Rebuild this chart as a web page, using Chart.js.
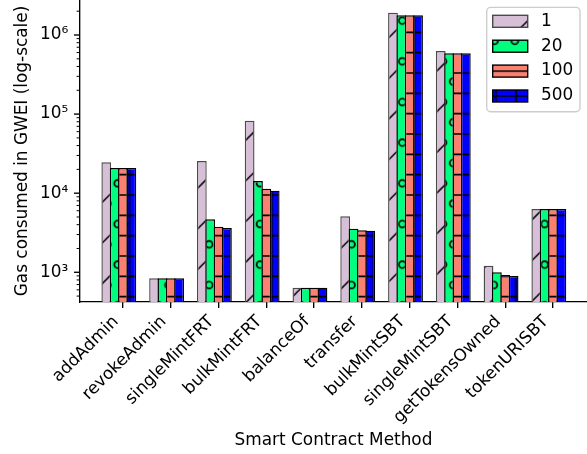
<!DOCTYPE html>
<html><head><meta charset="utf-8">
<script src="https://cdn.jsdelivr.net/npm/chart.js@4.4.1/dist/chart.umd.min.js"></script>
<style>html,body{margin:0;padding:0;background:#fff;}#wrap{width:587px;height:454px;}</style>
</head><body>
<div id="wrap"><canvas id="c" width="587" height="454"></canvas></div>
<script>
// ---------- data ----------
const categories = ['addAdmin','revokeAdmin','singleMintFRT','bulkMintFRT','balanceOf','transfer','bulkMintSBT','singleMintSBT','getTokensOwned','tokenURISBT'];
const seriesLabels = ['1','20','100','500'];
const gas1   = [24600, 840, 25500, 82500, 638, 5100, 1914000, 628000, 1212, 6310];
const gas20  = [20800, 840, 4680, 14260, 638, 3560, 1775000, 587000, 1000, 6310];
const gas100 = [20800, 840, 3770, 11400, 638, 3400, 1775000, 587000, 925, 6310];
const gas500 = [20800, 840, 3630, 10760, 638, 3360, 1775000, 587000, 898, 6310];
const yMajorTicks  = [1e3, 1e4, 1e5, 1e6];
const yMajorLabels = ['10³', '10⁴', '10⁵', '10⁶'];

// ---------- styles ----------
const FONT = {family: "'DejaVu Sans', sans-serif", size: 16.9};
const BAR_W = 0.175;
const fills = ['#D8BFD8', '#00FF7F', '#FA8072', '#0000FF'];
const edges = ['#4a4a4a', '#000000', '#000000', '#000000'];
const U = 122, S = U / 6;

function tile(fill, draw) {
  const c = document.createElement('canvas');
  c.width = U; c.height = U;
  const g = c.getContext('2d');
  g.fillStyle = fill; g.fillRect(0, 0, U, U);
  g.strokeStyle = '#000'; g.lineWidth = 1.6;
  draw(g);
  return c;
}
const tiles = [
  tile(fills[0], g => { g.strokeStyle = '#111'; for (let k = -2; k <= 8; k++) { const c = k * U / 3; g.beginPath(); g.moveTo(c + 20, -20); g.lineTo(c - U - 20, U + 20); g.stroke(); } }),
  tile(fills[1], g => { g.lineWidth = 1.7; for (let r = -1; r <= 7; r++) { const x0 = (((r % 2) + 2) % 2) ? S / 2 : 0; for (let m = -1; m <= 7; m++) { g.beginPath(); g.arc(x0 + m * S, r * S, 3.4, 0, Math.PI * 2); g.stroke(); } } }),
  tile(fills[2], g => { for (let r = -1; r <= 7; r++) { g.beginPath(); g.moveTo(-2, r * S); g.lineTo(U + 2, r * S); g.stroke(); } }),
  tile(fills[3], g => { for (let r = -1; r <= 7; r++) { g.beginPath(); g.moveTo(-2, r * S); g.lineTo(U + 2, r * S); g.stroke(); g.beginPath(); g.moveTo(r * S, -2); g.lineTo(r * S, U + 2); g.stroke(); } })
];
const barPhase = [[19.8, 0], [5.8, 0.3], [0, 12.0], [7.45, 12.0]];
const ctx = document.getElementById('c').getContext('2d');
function pattern(k, tx, ty) {
  const p = ctx.createPattern(tiles[k], 'repeat');
  p.setTransform(new DOMMatrix([1, 0, 0, 1, tx, ty]));
  return p;
}
const barPatterns = tiles.map((t, k) => pattern(k, barPhase[k][0], barPhase[k][1]));

const seriesValues = [gas1, gas20, gas100, gas500];
const datasets = seriesValues.map((vals, k) => ({
  label: seriesLabels[k],
  data: vals.map((v, i) => ({x: i + (k - 2) * BAR_W, y: v})),
  backgroundColor: barPatterns[k],
  borderColor: edges[k],
  borderWidth: 1.4,
  borderSkipped: 'start',
  inflateAmount: 0,
  barThickness: 9.76,
  grouped: false,
  order: 4 - k
}));

const yTickPlugin = {
  id: 'yTicks',
  afterDraw(chart) {
    const ys = chart.scales.y, g = chart.ctx, left = chart.chartArea.left;
    g.save();
    g.strokeStyle = '#000';
    for (let e = 2; e <= 6; e++) for (let d = 1; d <= 9; d++) {
      const v = d * Math.pow(10, e);
      if (v < ys.min || v > ys.max) continue;
      const y = ys.getPixelForValue(v);
      const major = d === 1;
      g.lineWidth = major ? 1.35 : 1.0;
      g.beginPath(); g.moveTo(left - (major ? 6 : 3.4), y); g.lineTo(left, y); g.stroke();
    }
    g.restore();
  }
};

const legendPlugin = {
  id: 'hatchLegend',
  afterDraw(chart) {
    const g = chart.ctx;
    const bx = 486.7, by = 7.3, bw = 93.3, bh = 104.4, r = 4;
    g.save();
    g.beginPath();
    g.moveTo(bx + r, by); g.lineTo(bx + bw - r, by); g.arcTo(bx + bw, by, bx + bw, by + r, r);
    g.lineTo(bx + bw, by + bh - r); g.arcTo(bx + bw, by + bh, bx + bw - r, by + bh, r);
    g.lineTo(bx + r, by + bh); g.arcTo(bx, by + bh, bx, by + bh - r, r);
    g.lineTo(bx, by + r); g.arcTo(bx, by, bx + r, by, r); g.closePath();
    g.fillStyle = 'rgba(255,255,255,0.8)'; g.fill();
    g.strokeStyle = '#cccccc'; g.lineWidth = 1.35; g.stroke();
    const px = 492.7, pw = 35, ph = 12;
    chart.data.datasets.forEach((ds, k) => {
      const cy = 21.3 + 24.9 * k;
      const top = cy - ph / 2;
      let p;
      if (k === 0) p = pattern(0, barPhase[0][0], 0);
      else if (k === 1) p = pattern(1, 6.5, top + 0.6);
      else if (k === 2) p = pattern(2, 0, cy);
      else p = pattern(3, 7.75, cy);
      g.fillStyle = p;
      g.fillRect(px, top, pw, ph);
      g.strokeStyle = ds.borderColor; g.lineWidth = 1.4;
      g.strokeRect(px, top, pw, ph);
      g.fillStyle = '#000';
      g.font = FONT.size + 'px ' + FONT.family;
      g.textBaseline = 'middle'; g.textAlign = 'left';
      g.fillText(ds.label, 541, cy);
    });
    g.restore();
  }
};

new Chart(ctx, {
  type: 'bar',
  data: {datasets},
  options: {
    responsive: false,
    animation: false,
    layout: {padding: 0},
    plugins: {legend: {display: false}, tooltip: {enabled: false}},
    scales: {
      x: {
        type: 'linear',
        offset: false,
        min: -0.9, max: 9.711,
        afterBuildTicks: s => { s.ticks = categories.map((_, i) => ({value: i})); },
        afterFit: s => { s.height = 152; s.paddingLeft = 0; s.paddingRight = 0; },
        ticks: {
          callback: v => categories[v] ?? '',
          autoSkip: false, minRotation: 45, maxRotation: 45,
          font: FONT, color: '#000', padding: 3.8, labelOffset: -7
        },
        grid: {offset: false, drawOnChartArea: false, drawTicks: true, tickLength: 6, color: '#000', lineWidth: 1.35},
        border: {display: true, color: '#000', width: 1.35},
        title: {display: true, text: 'Smart Contract Method', font: FONT, color: '#000', padding: {top: 0, bottom: 2.9}}
      },
      y: {
        type: 'logarithmic',
        min: 421, max: 2.77e6,
        afterFit: s => { s.width = 80; s.paddingTop = 0; s.paddingBottom = 0; },
        ticks: {
          callback: v => { const i = yMajorTicks.findIndex(t => Math.abs(t - v) < 1e-6 * t); return i >= 0 ? yMajorLabels[i] : ''; },
          autoSkip: false, font: FONT, color: '#000', padding: 11.7
        },
        grid: {display: false, drawTicks: false},
        border: {display: true, color: '#000', width: 1.35},
        title: {display: true, text: 'Gas consumed in GWEI (log-scale)', font: FONT, color: '#000', padding: {top: 12.5, bottom: 0}}
      }
    }
  },
  plugins: [yTickPlugin, legendPlugin]
});
</script>
</body></html>
